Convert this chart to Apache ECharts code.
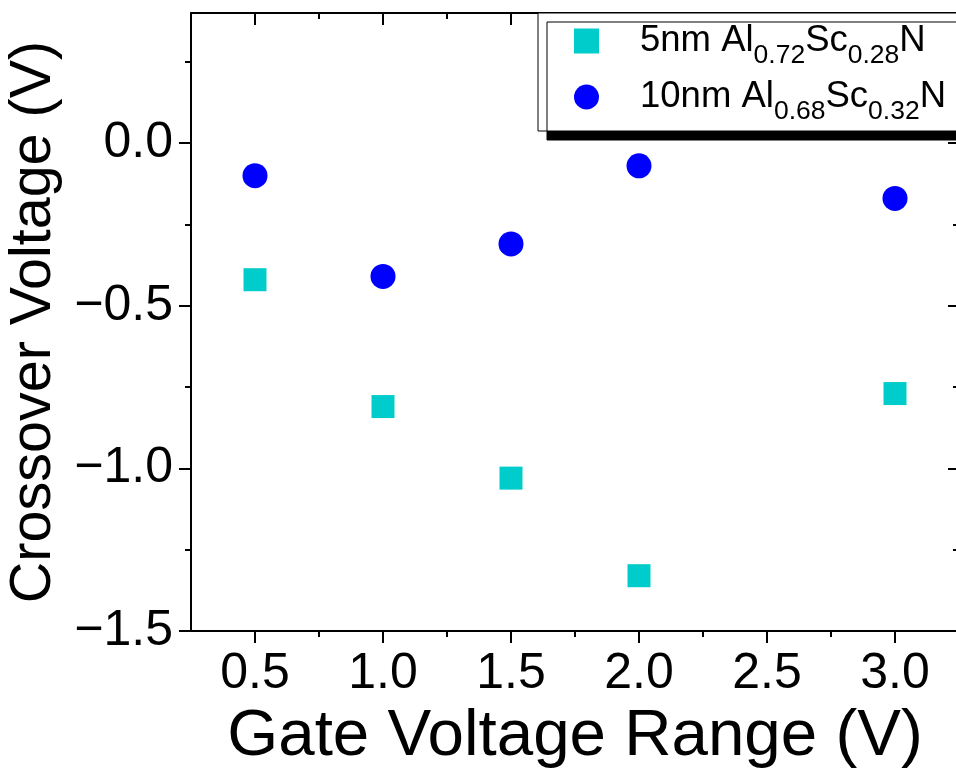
<!DOCTYPE html>
<html>
<head>
<meta charset="utf-8">
<script src="https://cdn.jsdelivr.net/npm/echarts@6/dist/echarts.min.js"></script>
<style>
html,body{margin:0;padding:0;background:#fff;overflow:hidden;}
#chart{width:956px;height:768px;}
</style>
</head>
<body>
<div id="chart"></div>
<script>
var gateVoltage = [0.5, 1.0, 1.5, 2.0, 3.0];
var crossover5nm = [-0.42, -0.81, -1.03, -1.33, -0.77];
var crossover10nm = [-0.10, -0.41, -0.31, -0.07, -0.17];
var seriesNames = ['5nm Al0.72Sc0.28N', '10nm Al0.68Sc0.32N'];
var xMajorTicks = [0.5, 1.0, 1.5, 2.0, 2.5, 3.0];
var xMinorTicks = [0.75, 1.25, 1.75, 2.25, 2.75];
var yMajorTicks = [-1.5, -1.0, -0.5, 0.0];
var yMinorTicks = [-1.25, -0.75, -0.25, 0.25];
var xTitle = 'Gate Voltage Range (V)';
var yTitle = 'Crossover Voltage (V)';

var FONT = "'Liberation Sans', Arial, sans-serif";
var black = '#000';

function pairs(xs, ys) { return xs.map(function (x, i) { return [x, ys[i]]; }); }
function fmt(v) { return Number(v).toFixed(1).replace('-', '\u2212'); }

function xAx(pos, ticks, len, inside, showLine, showLabel, extra) {
  var a = {
    type: 'value', position: pos, min: 0.25, max: 3.25, gridIndex: 0,
    splitLine: { show: false },
    axisLine: { show: showLine, onZero: false, lineStyle: { color: black, width: 2 } },
    axisTick: { show: true, inside: inside, length: len, customValues: ticks, lineStyle: { color: black, width: 2 } },
    axisLabel: showLabel ? { show: true, customValues: ticks, formatter: fmt, fontSize: 50, color: black, fontFamily: FONT, margin: 18 } : { show: false }
  };
  return Object.assign(a, extra || {});
}
function yAx(pos, ticks, len, inside, showLine, showLabel, extra) {
  var a = {
    type: 'value', position: pos, min: -1.5, max: 0.4, gridIndex: 0,
    splitLine: { show: false },
    axisLine: { show: showLine, onZero: false, lineStyle: { color: black, width: 2 } },
    axisTick: { show: true, inside: inside, length: len, customValues: ticks, lineStyle: { color: black, width: 2 } },
    axisLabel: showLabel ? { show: true, customValues: ticks, formatter: fmt, fontSize: 50, color: black, fontFamily: FONT, margin: 18 } : { show: false }
  };
  return Object.assign(a, extra || {});
}

var chart = echarts.init(document.getElementById('chart'), null, { renderer: 'canvas' });
var option = {
  animation: false,
  backgroundColor: '#fff',
  grid: { left: 191, top: 13, width: 768, height: 618, containLabel: false, outerBoundsMode: 'none' },
  xAxis: [
    xAx('bottom', xMajorTicks, 12, false, true, true, {
      name: xTitle, nameLocation: 'middle', nameGap: 68,
      nameTextStyle: { fontSize: 65.5, color: black, fontFamily: FONT }
    }),
    xAx('bottom', xMinorTicks, 6, false, false, false),
    xAx('top', xMajorTicks, 12, true, true, false),
    xAx('top', xMinorTicks, 6, true, false, false)
  ],
  yAxis: [
    yAx('left', yMajorTicks, 12, false, true, true, {
      name: yTitle, nameLocation: 'middle', nameGap: 119,
      nameTextStyle: { fontSize: 57.5, color: black, fontFamily: FONT }
    }),
    yAx('left', yMinorTicks, 6, false, false, false),
    yAx('right', yMajorTicks, 11, true, true, false),
    yAx('right', yMinorTicks, 6, true, false, false)
  ],
  legend: {
    orient: 'vertical',
    left: 538, top: 13,
    padding: [0, 30, 6, 36],
    itemGap: 0,
    itemWidth: 25, itemHeight: 25,
    backgroundColor: '#fff',
    borderColor: black, borderWidth: 1,
    shadowColor: black, shadowBlur: 0, shadowOffsetX: 9, shadowOffsetY: 9,
    selectedMode: false,
    data: seriesNames,
    formatter: function (name) {
      var m = name.match(/^(.*Al)([\d.]+)(Sc)([\d.]+)(N)$/);
      return '{a|' + m[1] + '}{s|' + m[2] + '}{b|' + m[3] + '}{s|' + m[4] + '}{b|' + m[5] + '}';
    },
    textStyle: {
      color: black, fontFamily: FONT, fontSize: 36,
      rich: {
        a: { fontSize: 36.5, fontFamily: FONT, color: black, lineHeight: 40, padding: [0, 0, 0, 36] },
        b: { fontSize: 36.5, fontFamily: FONT, color: black, lineHeight: 40 },
        s: { fontSize: 26.5, fontFamily: FONT, color: black, lineHeight: 26, padding: [29, 0, 0, 0] }
      }
    }
  },
  series: [
    {
      name: seriesNames[0], type: 'scatter', xAxisIndex: 0, yAxisIndex: 0,
      symbol: 'rect', symbolSize: 23,
      itemStyle: { color: 'rgb(0,204,204)', opacity: 1 },
      data: pairs(gateVoltage, crossover5nm)
    },
    {
      name: seriesNames[1], type: 'scatter', xAxisIndex: 0, yAxisIndex: 0,
      symbol: 'circle', symbolSize: 25,
      itemStyle: { color: 'rgb(0,0,255)', opacity: 1 },
      data: pairs(gateVoltage, crossover10nm)
    }
  ]
};
chart.setOption(option);
</script>
</body>
</html>
